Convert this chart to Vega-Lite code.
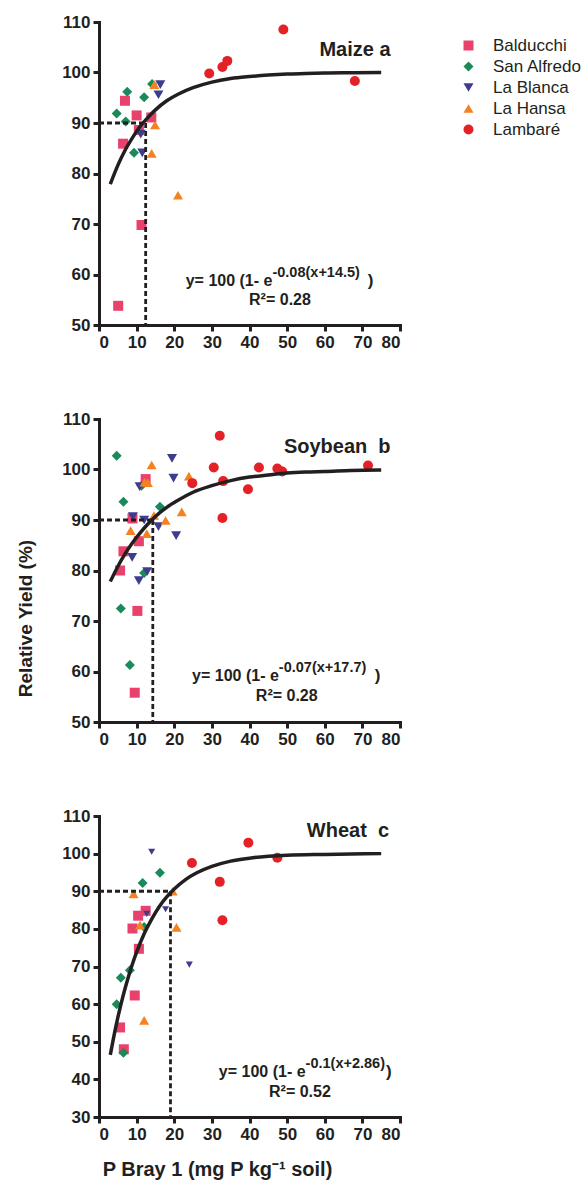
{
  "$schema": "https://vega.github.io/schema/vega-lite/v6.json",
  "padding": {"top": 13, "left": 16, "right": 5, "bottom": 5},
  "background": "white",
  "spacing": 60,
  "datasets": {
    "pts": [
      {"crop": "Maize", "site": "Balducchi", "P": 6.9, "RY": 94.4},
      {"crop": "Maize", "site": "Balducchi", "P": 10.0, "RY": 91.5},
      {"crop": "Maize", "site": "Balducchi", "P": 13.9, "RY": 91.1},
      {"crop": "Maize", "site": "Balducchi", "P": 10.6, "RY": 88.6},
      {"crop": "Maize", "site": "Balducchi", "P": 6.4, "RY": 85.9},
      {"crop": "Maize", "site": "Balducchi", "P": 11.3, "RY": 69.8},
      {"crop": "Maize", "site": "Balducchi", "P": 5.1, "RY": 53.8},
      {"crop": "Maize", "site": "San Alfredo", "P": 7.5, "RY": 96.2},
      {"crop": "Maize", "site": "San Alfredo", "P": 4.7, "RY": 91.9},
      {"crop": "Maize", "site": "San Alfredo", "P": 7.1, "RY": 90.3},
      {"crop": "Maize", "site": "San Alfredo", "P": 12.0, "RY": 95.1},
      {"crop": "Maize", "site": "San Alfredo", "P": 14.1, "RY": 97.7},
      {"crop": "Maize", "site": "San Alfredo", "P": 9.3, "RY": 84.1},
      {"crop": "Maize", "site": "La Blanca", "P": 16.3, "RY": 97.6},
      {"crop": "Maize", "site": "La Blanca", "P": 15.8, "RY": 95.6},
      {"crop": "Maize", "site": "La Blanca", "P": 11.1, "RY": 87.8},
      {"crop": "Maize", "site": "La Blanca", "P": 11.5, "RY": 84.1},
      {"crop": "Maize", "site": "La Hansa", "P": 14.7, "RY": 97.6},
      {"crop": "Maize", "site": "La Hansa", "P": 14.9, "RY": 89.6},
      {"crop": "Maize", "site": "La Hansa", "P": 14.0, "RY": 84.0},
      {"crop": "Maize", "site": "La Hansa", "P": 21.0, "RY": 75.7},
      {"crop": "Maize", "site": "Lambaré", "P": 49.0, "RY": 108.5},
      {"crop": "Maize", "site": "Lambaré", "P": 34.1, "RY": 102.3},
      {"crop": "Maize", "site": "Lambaré", "P": 32.8, "RY": 101.1},
      {"crop": "Maize", "site": "Lambaré", "P": 29.3, "RY": 99.8},
      {"crop": "Maize", "site": "Lambaré", "P": 68.0, "RY": 98.3},

      {"crop": "Soybean", "site": "Balducchi", "P": 12.4, "RY": 98.1},
      {"crop": "Soybean", "site": "Balducchi", "P": 8.9, "RY": 90.3},
      {"crop": "Soybean", "site": "Balducchi", "P": 10.6, "RY": 85.8},
      {"crop": "Soybean", "site": "Balducchi", "P": 6.5, "RY": 83.8},
      {"crop": "Soybean", "site": "Balducchi", "P": 5.6, "RY": 80.0},
      {"crop": "Soybean", "site": "Balducchi", "P": 10.2, "RY": 72.0},
      {"crop": "Soybean", "site": "Balducchi", "P": 9.5, "RY": 55.8},
      {"crop": "Soybean", "site": "San Alfredo", "P": 4.7, "RY": 102.7},
      {"crop": "Soybean", "site": "San Alfredo", "P": 6.5, "RY": 93.6},
      {"crop": "Soybean", "site": "San Alfredo", "P": 11.3, "RY": 96.8},
      {"crop": "Soybean", "site": "San Alfredo", "P": 16.2, "RY": 92.6},
      {"crop": "Soybean", "site": "San Alfredo", "P": 12.0, "RY": 79.5},
      {"crop": "Soybean", "site": "San Alfredo", "P": 5.8, "RY": 72.5},
      {"crop": "Soybean", "site": "San Alfredo", "P": 8.2, "RY": 61.3},
      {"crop": "Soybean", "site": "La Blanca", "P": 19.4, "RY": 102.2},
      {"crop": "Soybean", "site": "La Blanca", "P": 19.8, "RY": 98.3},
      {"crop": "Soybean", "site": "La Blanca", "P": 10.8, "RY": 96.6},
      {"crop": "Soybean", "site": "La Blanca", "P": 9.0, "RY": 90.7},
      {"crop": "Soybean", "site": "La Blanca", "P": 12.0, "RY": 90.0},
      {"crop": "Soybean", "site": "La Blanca", "P": 15.8, "RY": 88.7},
      {"crop": "Soybean", "site": "La Blanca", "P": 20.5, "RY": 86.9},
      {"crop": "Soybean", "site": "La Blanca", "P": 8.8, "RY": 82.6},
      {"crop": "Soybean", "site": "La Blanca", "P": 12.8, "RY": 79.8},
      {"crop": "Soybean", "site": "La Blanca", "P": 10.6, "RY": 78.0},
      {"crop": "Soybean", "site": "La Hansa", "P": 14.0, "RY": 100.9},
      {"crop": "Soybean", "site": "La Hansa", "P": 23.9, "RY": 98.7},
      {"crop": "Soybean", "site": "La Hansa", "P": 12.1, "RY": 97.5},
      {"crop": "Soybean", "site": "La Hansa", "P": 13.0, "RY": 97.4},
      {"crop": "Soybean", "site": "La Hansa", "P": 22.0, "RY": 91.6},
      {"crop": "Soybean", "site": "La Hansa", "P": 14.6, "RY": 90.9},
      {"crop": "Soybean", "site": "La Hansa", "P": 17.7, "RY": 89.9},
      {"crop": "Soybean", "site": "La Hansa", "P": 8.4, "RY": 87.9},
      {"crop": "Soybean", "site": "La Hansa", "P": 12.7, "RY": 87.3},
      {"crop": "Soybean", "site": "Lambaré", "P": 32.1, "RY": 106.7},
      {"crop": "Soybean", "site": "Lambaré", "P": 30.5, "RY": 100.4},
      {"crop": "Soybean", "site": "Lambaré", "P": 42.5, "RY": 100.4},
      {"crop": "Soybean", "site": "Lambaré", "P": 47.4, "RY": 100.2},
      {"crop": "Soybean", "site": "Lambaré", "P": 48.7, "RY": 99.6},
      {"crop": "Soybean", "site": "Lambaré", "P": 71.5, "RY": 100.8},
      {"crop": "Soybean", "site": "Lambaré", "P": 24.8, "RY": 97.3},
      {"crop": "Soybean", "site": "Lambaré", "P": 33.0, "RY": 97.7},
      {"crop": "Soybean", "site": "Lambaré", "P": 39.6, "RY": 96.1},
      {"crop": "Soybean", "site": "Lambaré", "P": 32.8, "RY": 90.4},

      {"crop": "Wheat", "site": "Balducchi", "P": 12.4, "RY": 84.8},
      {"crop": "Wheat", "site": "Balducchi", "P": 10.4, "RY": 83.5},
      {"crop": "Wheat", "site": "Balducchi", "P": 8.9, "RY": 80.1},
      {"crop": "Wheat", "site": "Balducchi", "P": 10.6, "RY": 74.7},
      {"crop": "Wheat", "site": "Balducchi", "P": 9.5, "RY": 62.3},
      {"crop": "Wheat", "site": "Balducchi", "P": 5.6, "RY": 53.8},
      {"crop": "Wheat", "site": "Balducchi", "P": 6.6, "RY": 48.0},
      {"crop": "Wheat", "site": "San Alfredo", "P": 16.2, "RY": 94.9},
      {"crop": "Wheat", "site": "San Alfredo", "P": 11.6, "RY": 92.2},
      {"crop": "Wheat", "site": "San Alfredo", "P": 12.0, "RY": 80.5},
      {"crop": "Wheat", "site": "San Alfredo", "P": 8.2, "RY": 69.0},
      {"crop": "Wheat", "site": "San Alfredo", "P": 5.8, "RY": 67.0},
      {"crop": "Wheat", "site": "San Alfredo", "P": 4.7, "RY": 60.0},
      {"crop": "Wheat", "site": "San Alfredo", "P": 6.5, "RY": 47.1},
      {"crop": "Wheat", "site": "La Blanca", "P": 14.0, "RY": 100.5},
      {"crop": "Wheat", "site": "La Blanca", "P": 12.7, "RY": 84.0},
      {"crop": "Wheat", "site": "La Blanca", "P": 17.7, "RY": 85.2},
      {"crop": "Wheat", "site": "La Blanca", "P": 24.0, "RY": 70.5},
      {"crop": "Wheat", "site": "La Hansa", "P": 9.2, "RY": 89.3},
      {"crop": "Wheat", "site": "La Hansa", "P": 19.6, "RY": 90.0},
      {"crop": "Wheat", "site": "La Hansa", "P": 10.9, "RY": 81.0},
      {"crop": "Wheat", "site": "La Hansa", "P": 20.6, "RY": 80.4},
      {"crop": "Wheat", "site": "La Hansa", "P": 12.0, "RY": 55.7},
      {"crop": "Wheat", "site": "Lambaré", "P": 39.7, "RY": 102.9},
      {"crop": "Wheat", "site": "Lambaré", "P": 24.7, "RY": 97.5},
      {"crop": "Wheat", "site": "Lambaré", "P": 47.4, "RY": 98.9},
      {"crop": "Wheat", "site": "Lambaré", "P": 32.1, "RY": 92.5},
      {"crop": "Wheat", "site": "Lambaré", "P": 32.8, "RY": 82.3}
    ],
    "curve": [
      {"crop": "Maize", "P": 3, "RY": 77.9}, {"crop": "Maize", "P": 5, "RY": 81.6}, {"crop": "Maize", "P": 7, "RY": 84.7},
      {"crop": "Maize", "P": 9, "RY": 87.2}, {"crop": "Maize", "P": 11, "RY": 89.4}, {"crop": "Maize", "P": 13, "RY": 91.1},
      {"crop": "Maize", "P": 15, "RY": 92.6}, {"crop": "Maize", "P": 18, "RY": 94.4}, {"crop": "Maize", "P": 21, "RY": 95.7},
      {"crop": "Maize", "P": 25, "RY": 97.0}, {"crop": "Maize", "P": 30, "RY": 98.1}, {"crop": "Maize", "P": 35, "RY": 98.8},
      {"crop": "Maize", "P": 40, "RY": 99.2}, {"crop": "Maize", "P": 45, "RY": 99.5}, {"crop": "Maize", "P": 50, "RY": 99.7},
      {"crop": "Maize", "P": 55, "RY": 99.8}, {"crop": "Maize", "P": 60, "RY": 99.9}, {"crop": "Maize", "P": 67, "RY": 99.95},
      {"crop": "Maize", "P": 75, "RY": 100.0},
      {"crop": "Soybean", "P": 3, "RY": 77.8}, {"crop": "Soybean", "P": 5, "RY": 80.8}, {"crop": "Soybean", "P": 7, "RY": 83.4},
      {"crop": "Soybean", "P": 9, "RY": 85.6}, {"crop": "Soybean", "P": 11, "RY": 87.5}, {"crop": "Soybean", "P": 13, "RY": 89.2},
      {"crop": "Soybean", "P": 15, "RY": 90.7}, {"crop": "Soybean", "P": 18, "RY": 92.5}, {"crop": "Soybean", "P": 21, "RY": 93.9},
      {"crop": "Soybean", "P": 25, "RY": 95.5}, {"crop": "Soybean", "P": 30, "RY": 96.8}, {"crop": "Soybean", "P": 35, "RY": 97.8},
      {"crop": "Soybean", "P": 40, "RY": 98.5}, {"crop": "Soybean", "P": 45, "RY": 98.9}, {"crop": "Soybean", "P": 50, "RY": 99.3},
      {"crop": "Soybean", "P": 55, "RY": 99.5}, {"crop": "Soybean", "P": 60, "RY": 99.6}, {"crop": "Soybean", "P": 67, "RY": 99.8},
      {"crop": "Soybean", "P": 75, "RY": 99.9},
      {"crop": "Wheat", "P": 3, "RY": 46.5}, {"crop": "Wheat", "P": 4, "RY": 51.7}, {"crop": "Wheat", "P": 5, "RY": 56.4},
      {"crop": "Wheat", "P": 6, "RY": 60.6}, {"crop": "Wheat", "P": 7, "RY": 64.4}, {"crop": "Wheat", "P": 8, "RY": 67.9},
      {"crop": "Wheat", "P": 9, "RY": 71.0}, {"crop": "Wheat", "P": 10, "RY": 73.8}, {"crop": "Wheat", "P": 12, "RY": 78.7},
      {"crop": "Wheat", "P": 14, "RY": 82.6}, {"crop": "Wheat", "P": 16, "RY": 85.9}, {"crop": "Wheat", "P": 18, "RY": 88.5},
      {"crop": "Wheat", "P": 20, "RY": 90.6}, {"crop": "Wheat", "P": 23, "RY": 93.1}, {"crop": "Wheat", "P": 26, "RY": 94.9},
      {"crop": "Wheat", "P": 30, "RY": 96.6}, {"crop": "Wheat", "P": 35, "RY": 98.0}, {"crop": "Wheat", "P": 40, "RY": 98.8},
      {"crop": "Wheat", "P": 45, "RY": 99.3}, {"crop": "Wheat", "P": 50, "RY": 99.6}, {"crop": "Wheat", "P": 60, "RY": 99.8},
      {"crop": "Wheat", "P": 75, "RY": 100.0}
    ],
    "guide": [
      {"crop": "Maize", "x1": 0, "y1": 90, "x2": 12.4, "y2": 90},
      {"crop": "Maize", "x1": 12.4, "y1": 90, "x2": 12.4, "y2": 50},
      {"crop": "Soybean", "x1": 0, "y1": 90, "x2": 14.3, "y2": 90},
      {"crop": "Soybean", "x1": 14.3, "y1": 90, "x2": 14.3, "y2": 50},
      {"crop": "Wheat", "x1": 0, "y1": 90, "x2": 19.0, "y2": 90},
      {"crop": "Wheat", "x1": 19.0, "y1": 90, "x2": 19.0, "y2": 30}
    ]
  },
  "config": {
    "font": "Liberation Sans",
    "view": {"stroke": null},
    "axis": {
      "grid": false, "domainColor": "#231f20", "domainWidth": 3, "domainCap": "square",
      "tickColor": "#231f20", "tickWidth": 3, "tickSize": 6, "labelOverlap": false,
      "labelFont": "Liberation Sans", "labelFontWeight": "bold", "labelFontSize": 17, "labelColor": "#231f20", "labelPadding": 3,
      "titleFont": "Liberation Sans", "titleFontWeight": "bold", "titleFontSize": 19, "titleColor": "#231f20"
    },
    "legend": {
      "orient": "none", "legendX": 361, "legendY": 15, "title": null,
      "labelFont": "Liberation Sans", "labelFontSize": 17, "labelColor": "#231f20", "labelOffset": 16,
      "symbolSize": 100, "symbolStrokeWidth": 0, "rowPadding": 3
    },
    "text": {"font": "Liberation Sans", "fontWeight": "bold", "color": "#231f20"}
  },
  "vconcat": [
    {
      "width": 301, "height": 303,
      "layer": [
        {
          "data": {"name": "pts"},
          "transform": [{"filter": "datum.crop === 'Maize'"}],
          "mark": {"type": "point", "filled": true, "opacity": 1, "size": 100},
          "encoding": {
            "x": {"field": "P", "type": "quantitative", "scale": {"domain": [0, 80], "nice": false}, "axis": {"values": [0, 10, 20, 30, 40, 50, 60, 70, 80], "title": null}},
            "y": {"field": "RY", "type": "quantitative", "scale": {"domain": [50, 110], "nice": false, "zero": false}, "axis": {"values": [50, 60, 70, 80, 90, 100, 110], "title": null}},
            "color": {"field": "site", "type": "nominal", "scale": {"domain": ["Balducchi", "San Alfredo", "La Blanca", "La Hansa", "Lambaré"], "range": ["#e8416c", "#1b8a5a", "#3f3c8e", "#f58220", "#e52128"]}},
            "shape": {"field": "site", "type": "nominal", "scale": {"domain": ["Balducchi", "San Alfredo", "La Blanca", "La Hansa", "Lambaré"], "range": ["square", "diamond", "triangle-down", "triangle-up", "circle"]}}
          }
        },
        {
          "data": {"name": "curve"},
          "transform": [{"filter": "datum.crop === 'Maize'"}],
          "mark": {"type": "line", "color": "#231f20", "strokeWidth": 3.5, "interpolate": "monotone"},
          "encoding": {
            "x": {"field": "P", "type": "quantitative", "axis": {"values": [0, 10, 20, 30, 40, 50, 60, 70, 80], "title": null}},
            "y": {"field": "RY", "type": "quantitative", "axis": {"values": [50, 60, 70, 80, 90, 100, 110], "title": null}}
          }
        },
        {
          "data": {"name": "guide"},
          "transform": [{"filter": "datum.crop === 'Maize'"}],
          "mark": {"type": "rule", "color": "#231f20", "strokeWidth": 2.8, "strokeDash": [5, 3]},
          "encoding": {
            "x": {"field": "x1", "type": "quantitative", "axis": {"values": [0, 10, 20, 30, 40, 50, 60, 70, 80], "title": null}},
            "y": {"field": "y1", "type": "quantitative", "axis": {"values": [50, 60, 70, 80, 90, 100, 110], "title": null}},
            "x2": {"field": "x2"}, "y2": {"field": "y2"}
          }
        },
        {
          "data": {"values": [{}]},
          "mark": {"type": "text", "text": "Maize a", "align": "right", "baseline": "alphabetic", "fontSize": 20},
          "encoding": {
            "x": {"datum": 77.5, "type": "quantitative", "axis": {"values": [0, 10, 20, 30, 40, 50, 60, 70, 80], "title": null}},
            "y": {"datum": 103.2, "type": "quantitative", "axis": {"values": [50, 60, 70, 80, 90, 100, 110], "title": null}}
          }
        },
        {
          "data": {"values": [{}]},
          "mark": {"type": "text", "text": "y= 100 (1- e", "align": "right", "baseline": "alphabetic", "fontSize": 16},
          "encoding": {
            "x": {"datum": 46.1, "type": "quantitative", "axis": {"values": [0, 10, 20, 30, 40, 50, 60, 70, 80], "title": null}},
            "y": {"datum": 57.7, "type": "quantitative", "axis": {"values": [50, 60, 70, 80, 90, 100, 110], "title": null}}
          }
        },
        {
          "data": {"values": [{}]},
          "mark": {"type": "text", "text": "-0.08(x+14.5)", "align": "left", "baseline": "alphabetic", "fontSize": 14.5},
          "encoding": {
            "x": {"datum": 46.1, "type": "quantitative", "axis": {"values": [0, 10, 20, 30, 40, 50, 60, 70, 80], "title": null}},
            "y": {"datum": 59.5, "type": "quantitative", "axis": {"values": [50, 60, 70, 80, 90, 100, 110], "title": null}}
          }
        },
        {
          "data": {"values": [{}]},
          "mark": {"type": "text", "text": ")", "align": "left", "baseline": "alphabetic", "fontSize": 17},
          "encoding": {
            "x": {"datum": 71.4, "type": "quantitative", "axis": {"values": [0, 10, 20, 30, 40, 50, 60, 70, 80], "title": null}},
            "y": {"datum": 57.7, "type": "quantitative", "axis": {"values": [50, 60, 70, 80, 90, 100, 110], "title": null}}
          }
        },
        {
          "data": {"values": [{}]},
          "mark": {"type": "text", "text": "R²= 0.28", "align": "center", "baseline": "alphabetic", "fontSize": 16},
          "encoding": {
            "x": {"datum": 48.1, "type": "quantitative", "axis": {"values": [0, 10, 20, 30, 40, 50, 60, 70, 80], "title": null}},
            "y": {"datum": 53.9, "type": "quantitative", "axis": {"values": [50, 60, 70, 80, 90, 100, 110], "title": null}}
          }
        }
      ]
    },
    {
      "width": 301, "height": 303,
      "layer": [
        {
          "data": {"name": "pts"},
          "transform": [{"filter": "datum.crop === 'Soybean'"}],
          "mark": {"type": "point", "filled": true, "opacity": 1, "size": 100},
          "encoding": {
            "x": {"field": "P", "type": "quantitative", "scale": {"domain": [0, 80], "nice": false}, "axis": {"values": [0, 10, 20, 30, 40, 50, 60, 70, 80], "title": null}},
            "y": {"field": "RY", "type": "quantitative", "scale": {"domain": [50, 110], "nice": false, "zero": false}, "axis": {"values": [50, 60, 70, 80, 90, 100, 110], "title": "Relative Yield (%)", "titlePadding": 26, "titleY": 199}},
            "color": {"field": "site", "type": "nominal", "scale": {"domain": ["Balducchi", "San Alfredo", "La Blanca", "La Hansa", "Lambaré"], "range": ["#e8416c", "#1b8a5a", "#3f3c8e", "#f58220", "#e52128"]}},
            "shape": {"field": "site", "type": "nominal", "scale": {"domain": ["Balducchi", "San Alfredo", "La Blanca", "La Hansa", "Lambaré"], "range": ["square", "diamond", "triangle-down", "triangle-up", "circle"]}}
          }
        },
        {
          "data": {"name": "curve"},
          "transform": [{"filter": "datum.crop === 'Soybean'"}],
          "mark": {"type": "line", "color": "#231f20", "strokeWidth": 3.5, "interpolate": "monotone"},
          "encoding": {
            "x": {"field": "P", "type": "quantitative", "axis": {"values": [0, 10, 20, 30, 40, 50, 60, 70, 80], "title": null}},
            "y": {"field": "RY", "type": "quantitative", "axis": {"values": [50, 60, 70, 80, 90, 100, 110], "title": "Relative Yield (%)", "titlePadding": 26, "titleY": 199}}
          }
        },
        {
          "data": {"name": "guide"},
          "transform": [{"filter": "datum.crop === 'Soybean'"}],
          "mark": {"type": "rule", "color": "#231f20", "strokeWidth": 2.8, "strokeDash": [5, 3]},
          "encoding": {
            "x": {"field": "x1", "type": "quantitative", "axis": {"values": [0, 10, 20, 30, 40, 50, 60, 70, 80], "title": null}},
            "y": {"field": "y1", "type": "quantitative", "axis": {"values": [50, 60, 70, 80, 90, 100, 110], "title": "Relative Yield (%)", "titlePadding": 26, "titleY": 199}},
            "x2": {"field": "x2"}, "y2": {"field": "y2"}
          }
        },
        {
          "data": {"values": [{}]},
          "mark": {"type": "text", "text": "Soybean\u00a0 b", "align": "right", "baseline": "alphabetic", "fontSize": 20},
          "encoding": {
            "x": {"datum": 77.5, "type": "quantitative", "axis": {"values": [0, 10, 20, 30, 40, 50, 60, 70, 80], "title": null}},
            "y": {"datum": 103.2, "type": "quantitative", "axis": {"values": [50, 60, 70, 80, 90, 100, 110], "title": "Relative Yield (%)", "titlePadding": 26, "titleY": 199}}
          }
        },
        {
          "data": {"values": [{}]},
          "mark": {"type": "text", "text": "y= 100 (1- e", "align": "right", "baseline": "alphabetic", "fontSize": 16},
          "encoding": {
            "x": {"datum": 47.8, "type": "quantitative", "axis": {"values": [0, 10, 20, 30, 40, 50, 60, 70, 80], "title": null}},
            "y": {"datum": 58.1, "type": "quantitative", "axis": {"values": [50, 60, 70, 80, 90, 100, 110], "title": "Relative Yield (%)", "titlePadding": 26, "titleY": 199}}
          }
        },
        {
          "data": {"values": [{}]},
          "mark": {"type": "text", "text": "-0.07(x+17.7)", "align": "left", "baseline": "alphabetic", "fontSize": 14.5},
          "encoding": {
            "x": {"datum": 47.8, "type": "quantitative", "axis": {"values": [0, 10, 20, 30, 40, 50, 60, 70, 80], "title": null}},
            "y": {"datum": 59.9, "type": "quantitative", "axis": {"values": [50, 60, 70, 80, 90, 100, 110], "title": "Relative Yield (%)", "titlePadding": 26, "titleY": 199}}
          }
        },
        {
          "data": {"values": [{}]},
          "mark": {"type": "text", "text": ")", "align": "left", "baseline": "alphabetic", "fontSize": 17},
          "encoding": {
            "x": {"datum": 73.3, "type": "quantitative", "axis": {"values": [0, 10, 20, 30, 40, 50, 60, 70, 80], "title": null}},
            "y": {"datum": 58.1, "type": "quantitative", "axis": {"values": [50, 60, 70, 80, 90, 100, 110], "title": "Relative Yield (%)", "titlePadding": 26, "titleY": 199}}
          }
        },
        {
          "data": {"values": [{}]},
          "mark": {"type": "text", "text": "R²= 0.28", "align": "center", "baseline": "alphabetic", "fontSize": 16},
          "encoding": {
            "x": {"datum": 49.9, "type": "quantitative", "axis": {"values": [0, 10, 20, 30, 40, 50, 60, 70, 80], "title": null}},
            "y": {"datum": 54.2, "type": "quantitative", "axis": {"values": [50, 60, 70, 80, 90, 100, 110], "title": "Relative Yield (%)", "titlePadding": 26, "titleY": 199}}
          }
        }
      ]
    },
    {
      "width": 301, "height": 301,
      "layer": [
        {
          "data": {"name": "pts"},
          "transform": [{"filter": "datum.crop === 'Wheat' && datum.site !== 'La Blanca'"}],
          "mark": {"type": "point", "filled": true, "opacity": 1, "size": 100},
          "encoding": {
            "x": {"field": "P", "type": "quantitative", "scale": {"domain": [0, 80], "nice": false}, "axis": {"values": [0, 10, 20, 30, 40, 50, 60, 70, 80], "title": "P Bray 1 (mg P kg⁻¹ soil)", "titleX": 118, "titlePadding": 17, "titleFontSize": 20}},
            "y": {"field": "RY", "type": "quantitative", "scale": {"domain": [30, 110], "nice": false, "zero": false}, "axis": {"values": [30, 40, 50, 60, 70, 80, 90, 100, 110], "title": null}},
            "color": {"field": "site", "type": "nominal", "scale": {"domain": ["Balducchi", "San Alfredo", "La Blanca", "La Hansa", "Lambaré"], "range": ["#e8416c", "#1b8a5a", "#3f3c8e", "#f58220", "#e52128"]}},
            "shape": {"field": "site", "type": "nominal", "scale": {"domain": ["Balducchi", "San Alfredo", "La Blanca", "La Hansa", "Lambaré"], "range": ["square", "diamond", "triangle-down", "triangle-up", "circle"]}}
          }
        },
        {
          "data": {"name": "pts"},
          "transform": [{"filter": "datum.crop === 'Wheat' && datum.site === 'La Blanca'"}],
          "mark": {"type": "point", "filled": true, "opacity": 1, "size": 50},
          "encoding": {
            "x": {"field": "P", "type": "quantitative", "axis": {"values": [0, 10, 20, 30, 40, 50, 60, 70, 80], "title": "P Bray 1 (mg P kg⁻¹ soil)", "titleX": 118, "titlePadding": 17, "titleFontSize": 20}},
            "y": {"field": "RY", "type": "quantitative", "axis": {"values": [30, 40, 50, 60, 70, 80, 90, 100, 110], "title": null}},
            "color": {"field": "site", "type": "nominal"},
            "shape": {"field": "site", "type": "nominal"}
          }
        },
        {
          "data": {"name": "curve"},
          "transform": [{"filter": "datum.crop === 'Wheat'"}],
          "mark": {"type": "line", "color": "#231f20", "strokeWidth": 3.5, "interpolate": "monotone"},
          "encoding": {
            "x": {"field": "P", "type": "quantitative", "axis": {"values": [0, 10, 20, 30, 40, 50, 60, 70, 80], "title": "P Bray 1 (mg P kg⁻¹ soil)", "titleX": 118, "titlePadding": 17, "titleFontSize": 20}},
            "y": {"field": "RY", "type": "quantitative", "axis": {"values": [30, 40, 50, 60, 70, 80, 90, 100, 110], "title": null}}
          }
        },
        {
          "data": {"name": "guide"},
          "transform": [{"filter": "datum.crop === 'Wheat'"}],
          "mark": {"type": "rule", "color": "#231f20", "strokeWidth": 2.8, "strokeDash": [5, 3]},
          "encoding": {
            "x": {"field": "x1", "type": "quantitative", "axis": {"values": [0, 10, 20, 30, 40, 50, 60, 70, 80], "title": "P Bray 1 (mg P kg⁻¹ soil)", "titleX": 118, "titlePadding": 17, "titleFontSize": 20}},
            "y": {"field": "y1", "type": "quantitative", "axis": {"values": [30, 40, 50, 60, 70, 80, 90, 100, 110], "title": null}},
            "x2": {"field": "x2"}, "y2": {"field": "y2"}
          }
        },
        {
          "data": {"values": [{}]},
          "mark": {"type": "text", "text": "Wheat\u00a0 c", "align": "right", "baseline": "alphabetic", "fontSize": 20},
          "encoding": {
            "x": {"datum": 77.1, "type": "quantitative", "axis": {"values": [0, 10, 20, 30, 40, 50, 60, 70, 80], "title": "P Bray 1 (mg P kg⁻¹ soil)", "titleX": 118, "titlePadding": 17, "titleFontSize": 20}},
            "y": {"datum": 104.4, "type": "quantitative", "axis": {"values": [30, 40, 50, 60, 70, 80, 90, 100, 110], "title": null}}
          }
        },
        {
          "data": {"values": [{}]},
          "mark": {"type": "text", "text": "y= 100 (1- e", "align": "right", "baseline": "alphabetic", "fontSize": 16},
          "encoding": {
            "x": {"datum": 54.9, "type": "quantitative", "axis": {"values": [0, 10, 20, 30, 40, 50, 60, 70, 80], "title": "P Bray 1 (mg P kg⁻¹ soil)", "titleX": 118, "titlePadding": 17, "titleFontSize": 20}},
            "y": {"datum": 40.6, "type": "quantitative", "axis": {"values": [30, 40, 50, 60, 70, 80, 90, 100, 110], "title": null}}
          }
        },
        {
          "data": {"values": [{}]},
          "mark": {"type": "text", "text": "-0.1(x+2.86)", "align": "left", "baseline": "alphabetic", "fontSize": 14.5},
          "encoding": {
            "x": {"datum": 54.9, "type": "quantitative", "axis": {"values": [0, 10, 20, 30, 40, 50, 60, 70, 80], "title": "P Bray 1 (mg P kg⁻¹ soil)", "titleX": 118, "titlePadding": 17, "titleFontSize": 20}},
            "y": {"datum": 43.0, "type": "quantitative", "axis": {"values": [30, 40, 50, 60, 70, 80, 90, 100, 110], "title": null}}
          }
        },
        {
          "data": {"values": [{}]},
          "mark": {"type": "text", "text": ")", "align": "left", "baseline": "alphabetic", "fontSize": 17},
          "encoding": {
            "x": {"datum": 76.3, "type": "quantitative", "axis": {"values": [0, 10, 20, 30, 40, 50, 60, 70, 80], "title": "P Bray 1 (mg P kg⁻¹ soil)", "titleX": 118, "titlePadding": 17, "titleFontSize": 20}},
            "y": {"datum": 40.6, "type": "quantitative", "axis": {"values": [30, 40, 50, 60, 70, 80, 90, 100, 110], "title": null}}
          }
        },
        {
          "data": {"values": [{}]},
          "mark": {"type": "text", "text": "R²= 0.52", "align": "center", "baseline": "alphabetic", "fontSize": 16},
          "encoding": {
            "x": {"datum": 53.4, "type": "quantitative", "axis": {"values": [0, 10, 20, 30, 40, 50, 60, 70, 80], "title": "P Bray 1 (mg P kg⁻¹ soil)", "titleX": 118, "titlePadding": 17, "titleFontSize": 20}},
            "y": {"datum": 35.3, "type": "quantitative", "axis": {"values": [30, 40, 50, 60, 70, 80, 90, 100, 110], "title": null}}
          }
        }
      ]
    }
  ]
}
